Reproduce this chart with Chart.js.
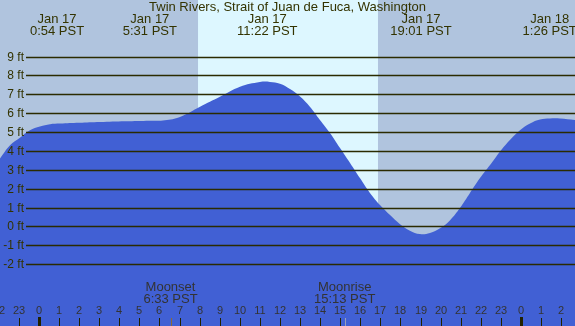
<!DOCTYPE html>
<html>
<head>
<meta charset="utf-8">
<script src="https://cdn.jsdelivr.net/npm/chart.js@4/dist/chart.umd.min.js"></script>
<style>
  html, body { margin: 0; padding: 0; background: #b0c4de; }
  #wrap { width: 575px; height: 326px; position: relative; }
</style>
</head>
<body>
<div id="wrap"><canvas id="tide"></canvas></div>
<script>
// hours from Jan 17 00:00 PST, tide height in feet
const hours = [-1.94, -1.44, -0.95, -0.45, 0.05, 0.55, 1.05, 2.0, 3.04, 4.3, 5.53, 6.27, 7.02, 8.02, 9.01,
  10.01, 11.0, 11.5, 12.0, 12.5, 13.0, 13.49, 13.99, 14.49, 14.99, 15.49, 15.98, 16.48, 16.98,
  17.48, 17.98, 18.47, 18.97, 19.47, 19.97, 20.47, 20.96, 21.46, 21.96, 22.46, 22.95, 23.45,
  23.95, 24.45, 24.95, 25.44, 25.94, 26.69];
const heights = [3.6, 4.3, 4.7, 5.1, 5.3, 5.42, 5.45, 5.49, 5.53, 5.57, 5.6, 5.63, 5.8, 6.34, 6.87,
  7.4, 7.65, 7.66, 7.56, 7.28, 6.88, 6.34, 5.64, 4.95, 4.15, 3.36, 2.56, 1.77, 1.13,
  0.6, 0.12, -0.23, -0.41, -0.35, -0.1, 0.33, 0.97, 1.77, 2.56, 3.25, 3.96, 4.58,
  5.1, 5.46, 5.67, 5.72, 5.72, 5.64];

// tide extremes shown at top
const eventHours = [0.9, 5.52, 11.37, 19.02, 25.43];
const eventDates = ['Jan 17', 'Jan 17', 'Jan 17', 'Jan 17', 'Jan 18'];
const eventTimes = ['0:54 PST', '5:31 PST', '11:22 PST', '19:01 PST', '1:26 PST'];

// sun and moon
const daylight = [7.92, 16.88];
const moonHours = [6.55, 15.22];
const moonNames = ['Moonset', 'Moonrise'];
const moonTimes = ['6:33 PST', '15:13 PST'];

// axes
const feetLevels = [9, 8, 7, 6, 5, 4, 3, 2, 1, 0, -1, -2];
const hourTicks = [-2, -1, 0, 1, 2, 3, 4, 5, 6, 7, 8, 9, 10, 11, 12, 13, 14, 15, 16, 17, 18, 19, 20, 21, 22, 23, 24, 25, 26];
const hourLabels = ['22', '23', '0', '1', '2', '3', '4', '5', '6', '7', '8', '9', '10', '11', '12', '13', '14', '15',
  '16', '17', '18', '19', '20', '21', '22', '23', '0', '1', '2'];
const midnights = [0, 24];

const title = 'Twin Rivers, Strait of Juan de Fuca, Washington';
const textColor = '#333300';
const font = '"Liberation Sans", Arial, sans-serif';

const backdrop = {
  id: 'backdrop',
  beforeDraw(chart) {
    const { ctx, chartArea: a, scales: { x } } = chart;
    ctx.save();
    ctx.fillStyle = '#b0c4de';
    ctx.fillRect(0, 0, chart.width, chart.height);
    const x1 = x.getPixelForValue(daylight[0]);
    const x2 = x.getPixelForValue(daylight[1]);
    ctx.fillStyle = '#ddf7ff';
    ctx.fillRect(x1, a.top, x2 - x1, a.bottom - a.top);
    ctx.restore();
  }
};

const overlay = {
  id: 'overlay',
  afterDatasetsDraw(chart) {
    const { ctx, chartArea: a, scales: { x, y } } = chart;
    ctx.save();

    // height lines and labels
    ctx.font = '12px ' + font;
    ctx.textAlign = 'right';
    ctx.textBaseline = 'middle';
    feetLevels.forEach(f => {
      const py = Math.round(y.getPixelForValue(f)) + 0.5;
      ctx.strokeStyle = '#2b2b00';
      ctx.lineWidth = 1.3;
      ctx.beginPath();
      ctx.moveTo(26, py);
      ctx.lineTo(a.right, py);
      ctx.stroke();
      ctx.fillStyle = textColor;
      ctx.fillText(f + ' ft', 24, py);
    });

    // title
    ctx.textAlign = 'center';
    ctx.font = '13px ' + font;
    ctx.fillStyle = textColor;
    ctx.fillText(title, chart.width / 2, 7);

    // tide events
    eventHours.forEach((h, i) => {
      const px = x.getPixelForValue(h);
      ctx.fillText(eventDates[i], px, 19);
      ctx.fillText(eventTimes[i], px, 31);
    });

    // moon events
    ctx.fillStyle = '#333333';
    moonHours.forEach((h, i) => {
      const px = x.getPixelForValue(h);
      ctx.fillText(moonNames[i], px, 287);
      ctx.fillText(moonTimes[i], px, 299);
    });

    // hour ticks
    ctx.font = '11px ' + font;
    hourTicks.forEach((h, i) => {
      const px = Math.round(x.getPixelForValue(h));
      ctx.fillStyle = '#333333';
      ctx.fillText(hourLabels[i], px, 311);
      ctx.fillStyle = '#222200';
      if (midnights.includes(h)) ctx.fillRect(px - 1, 317, 3, 9);
      else ctx.fillRect(px, 318, 1, 8);
    });
    ctx.fillStyle = '#8a6a3a';
    ctx.fillRect(Math.round(x.getPixelForValue(moonHours[0])), 318, 1, 8);
    ctx.fillStyle = '#9aa0b8';
    ctx.fillRect(Math.round(x.getPixelForValue(moonHours[1])), 318, 1, 8);

    ctx.restore();
  }
};

new Chart(document.getElementById('tide'), {
  type: 'line',
  data: {
    datasets: [{
      data: hours.map((h, i) => ({ x: h, y: heights[i] })),
      backgroundColor: '#4160d4',
      borderWidth: 0,
      pointRadius: 0,
      fill: 'start',
      tension: 0.4
    }]
  },
  options: {
    responsive: true,
    maintainAspectRatio: false,
    animation: false,
    layout: { padding: 0 },
    plugins: { legend: { display: false }, tooltip: { enabled: false } },
    scales: {
      x: { type: 'linear', display: false, min: -1.94, max: 26.69 },
      y: { display: false, min: -5.28, max: 12.0 }
    }
  },
  plugins: [backdrop, overlay]
});
</script>
</body>
</html>
